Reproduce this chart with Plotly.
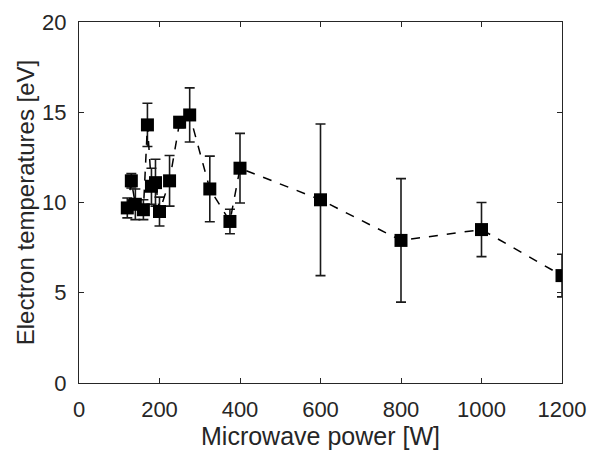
import plotly.graph_objects as go

power = [120, 130, 140, 160, 170, 180, 190, 200, 225, 250, 275, 325, 375, 400, 600, 800, 1000, 1200]
temperature = [9.7, 11.2, 9.9, 9.6, 14.3, 10.9, 11.1, 9.5, 11.2, 14.45, 14.85, 10.75, 8.95, 11.9, 10.15, 7.9, 8.5, 5.95]
temp_error = [0.55, 0.4, 0.85, 0.55, 1.2, 1.0, 1.3, 0.8, 1.4, 0.3, 1.5, 1.82, 0.68, 1.93, 4.2, 3.42, 1.5, 1.18]

x_ticks = [0, 200, 400, 600, 800, 1000, 1200]
y_ticks = [0, 5, 10, 15, 20]

axis_color = "#262626"
font_family = "Liberation Sans, Arial, sans-serif"

fig = go.Figure()
fig.add_trace(go.Scatter(
    x=power,
    y=temperature,
    mode="lines+markers",
    line=dict(color="black", width=1.5, dash="dash"),
    marker=dict(symbol="square", size=13, color="black"),
    error_y=dict(type="data", array=temp_error, visible=True,
                 color="#1a1a1a", thickness=1.6, width=5),
    showlegend=False,
    hoverinfo="skip",
))

axis_common = dict(
    showline=True, linecolor=axis_color, linewidth=1,
    mirror="ticks", ticks="inside", ticklen=5, tickcolor=axis_color,
    showgrid=False, zeroline=False, automargin=False,
    tickfont=dict(family=font_family, size=22, color=axis_color),
)

fig.update_layout(
    width=590, height=456,
    margin=dict(l=79, r=28, t=22, b=73),
    paper_bgcolor="white", plot_bgcolor="white",
    font=dict(family=font_family, color=axis_color),
    xaxis=dict(range=[0, 1200], tickvals=x_ticks, ticklabelstandoff=7,
               title=dict(text="Microwave power [W]", font=dict(size=25, color=axis_color), standoff=4),
               **axis_common),
    yaxis=dict(range=[0, 20], tickvals=y_ticks, ticklabelstandoff=7,
               title=dict(text="Electron temperatures [eV]", font=dict(size=24, color=axis_color), standoff=0),
               **axis_common),
)

fig.write_html(
    "out.html",
    config={"displayModeBar": False},
    post_script="document.body.style.margin='0';document.body.style.overflow='hidden';",
)
